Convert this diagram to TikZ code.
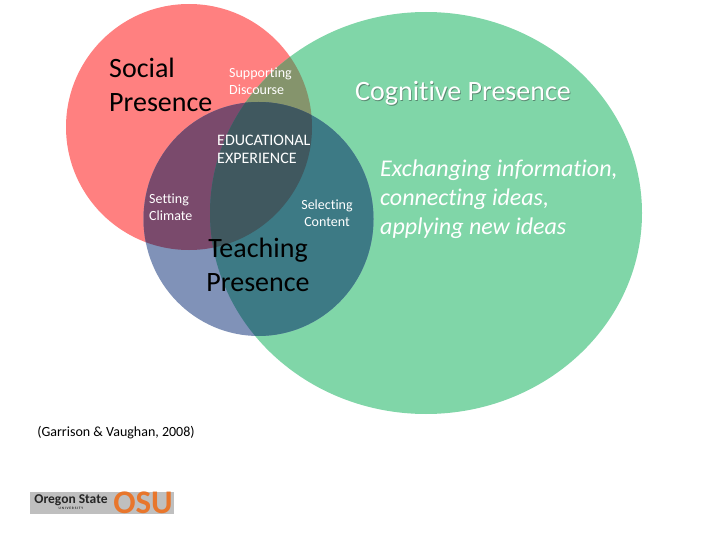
\documentclass[tikz,border=0pt]{standalone}
\usepackage{fontspec}
\setmainfont{Carlito}[Ligatures=NoCommon]
\definecolor{cred}{HTML}{FF8080}
\definecolor{cgreen}{HTML}{80D6A8}
\definecolor{cblue}{HTML}{8092B8}
\definecolor{crb}{HTML}{7A4A6C}
\definecolor{crg}{HTML}{85946C}
\definecolor{cbg}{HTML}{3D7A85}
\definecolor{call}{HTML}{40585F}
\definecolor{cshadow}{HTML}{5A8A72}
\definecolor{cosu}{HTML}{E8762C}
\tikzset{
  big/.style={inner sep=0pt,font=\fontsize{28}{34}\selectfont,text=black},
  small/.style={inner sep=0pt,font=\fontsize{14}{17}\selectfont,text=white},
}
\newcommand{\rcirc}{(189,127) circle [x radius=123,y radius=123]}
\newcommand{\gcirc}{(426,213) circle [x radius=216,y radius=201]}
\newcommand{\bcirc}{(258.5,219) circle [x radius=115,y radius=117]}
\begin{document}
\begin{tikzpicture}[x=1pt,y=-1pt]
\useasboundingbox (0,0) rectangle (720,540);
\fill[white] (0,0) rectangle (720,540);
\fill[cred] \rcirc;
\fill[cgreen] \gcirc;
\fill[cblue] \bcirc;
\begin{scope}\clip \rcirc; \fill[crg] \gcirc; \fill[crb] \bcirc; \end{scope}
\begin{scope}\clip \gcirc; \fill[cbg] \bcirc; \end{scope}
\begin{scope}\clip \rcirc; \clip \gcirc; \fill[call] \bcirc; \end{scope}
\node[big,anchor=west,align=left] (social) at (109,85) {Social\\Presence};
\node[small,anchor=west,align=left] (support) at (229,81.5) {Supporting\\Discourse};
\node[inner sep=0pt,text=cshadow,font=\fontsize{28}{34}\selectfont] at (463.8,94.3) {Cognitive Presence};
\node[inner sep=0pt,text=white,font=\fontsize{28}{34}\selectfont] (cog) at (463,93.5) {Cognitive Presence};
\node[inner sep=0pt,anchor=west,align=left,text=white,font=\fontsize{16}{18}\selectfont] (edu) at (217,149.5) {EDUCATIONAL\\EXPERIENCE};
\node[small,anchor=west,align=left] (setting) at (149,207) {Setting\\Climate};
\node[small,align=center] (selecting) at (327,213) {Selecting\\Content};
\node[big,align=center] (teaching) at (258,265) {Teaching\\Presence};
\node[inner sep=0pt,anchor=west,align=left,text=white,font=\itshape\fontsize{24}{29}\selectfont] (exch) at (380,199.5) {Exchanging information,\\connecting ideas,\\applying new ideas};
\node[inner sep=0pt,font=\fontsize{14}{17}\selectfont] (cite) at (116,433) {(Garrison \& Vaughan, 2008)};
\node[inner sep=0pt,minimum width=144pt,minimum height=22pt,fill=black!25,anchor=north west] (logo) at (30,492) {};
\node[inner sep=0pt,font=\bfseries\fontsize{13.5}{13.5}\selectfont,text=black!85] (oregon) at (71,500) {Oregon State};
\node[inner sep=0pt,font=\bfseries\fontsize{3.5}{3.5}\selectfont,text=black!85] (univ) at (71,508.5) {U N I V E R S I T Y};
\node[inner sep=0pt,font=\bfseries\fontsize{33}{33}\selectfont,text=cosu] (osu) at (143,503) {OSU};
\end{tikzpicture}
\end{document}
